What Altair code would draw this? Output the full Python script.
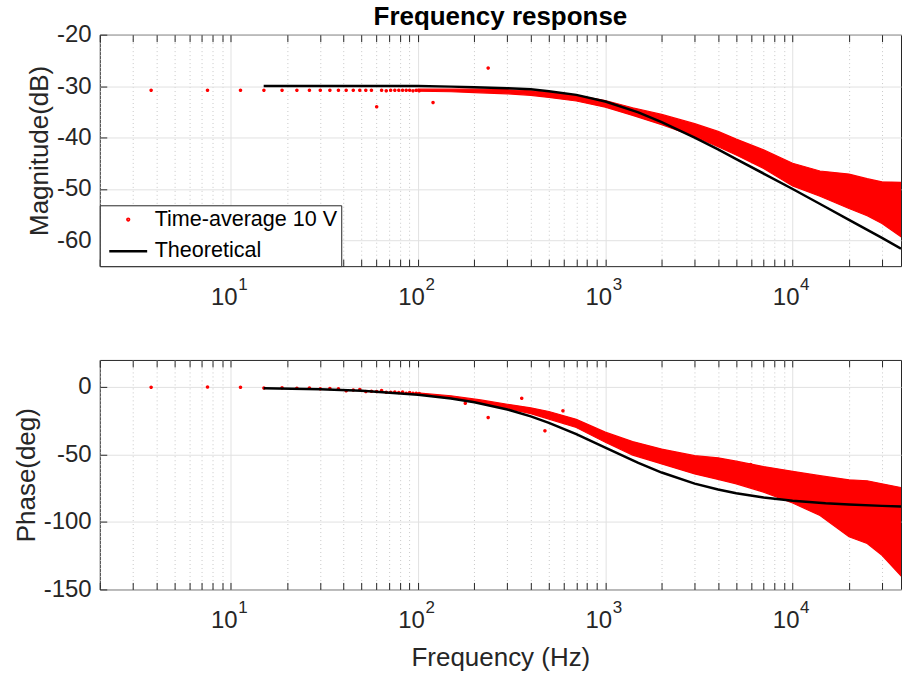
import altair as alt
import pandas as pd

FONT = "Liberation Sans"
RED = "#ff0000"
INK = "#262626"
DATA_NAME = "Time-average 10 V"
THEORY_NAME = "Theoretical"

# ---- x axis (log) ----
x_domain = [2, 37900]
x_ticks = [2, 3, 4, 5, 6, 7, 8, 9, 10, 20, 30, 40, 50, 60, 70, 80, 90, 100,
           200, 300, 400, 500, 600, 700, 800, 900, 1000, 2000, 3000, 4000, 5000,
           6000, 7000, 8000, 9000, 10000, 20000, 30000]
decades = [10, 100, 1000, 10000]
decade_exp = ["1", "2", "3", "4"]

# ---- sparse low-frequency bins (Hz) ----
bin_freq = [3.76, 7.52, 11.28, 15.04, 18.80, 22.56, 26.32, 30.08, 33.84, 37.60,
            41.36, 45.12, 48.88, 52.64, 56.40, 60.16, 63.92, 67.68, 71.44, 75.20,
            78.96, 82.72, 86.48, 90.24, 94.00, 97.76, 101.52]
bin_mag = [-30.8, -30.8, -30.8, -30.8, -30.8, -30.8, -30.8, -30.8, -30.8, -30.8,
           -30.8, -30.8, -30.8, -30.8, -30.8, -34.0, -30.8, -30.9, -30.8, -30.8,
           -30.8, -30.8, -30.8, -30.8, -30.9, -30.8, -30.9]
bin_phase = [-0.2, -0.1, -0.3, -0.8, -0.6, -1.0, -0.8, -1.4, -1.2, -1.4,
             -2.9, -2.2, -1.9, -3.4, -3.2, -3.3, -2.7, -4.0, -4.0, -3.7,
             -4.1, -3.8, -4.6, -4.2, -4.6, -4.7, -4.9]

# isolated outliers
mag_out_freq = [120.3, 236.9]
mag_out = [-33.2, -26.5]
phase_out_freq = [178.8, 236.9, 357.9, 476.0, 594.0, 5970.0]
phase_out = [-12.0, -22.6, -8.3, -32.5, -17.7, -57.5]

# dense measured band: upper / lower envelope
band_freq = [100, 150, 216, 300, 400, 500, 700, 1000, 1400, 2000, 3000, 4000,
             5000, 7000, 10000, 14000, 20000, 25000, 30000, 37900]
mag_upper = [-30.6, -30.6, -30.6, -30.7, -30.9, -31.2, -31.8, -32.8, -34.2, -35.5,
             -37.3, -38.8, -40.3, -42.4, -45.0, -46.5, -47.1, -48.0, -48.6, -48.7]
mag_lower = [-31.0, -31.1, -31.3, -31.5, -31.8, -32.2, -32.9, -34.1, -35.7, -37.5,
             -39.8, -41.8, -43.4, -46.0, -49.4, -51.4, -53.8, -55.2, -56.7, -59.3]
phase_upper = [-4.5, -6.5, -9.6, -12.8, -15.5, -18.2, -24.0, -33.5, -40.5, -46.0,
               -50.9, -52.5, -55.0, -59.0, -62.5, -65.7, -68.8, -69.5, -71.8, -74.5]
phase_lower = [-5.5, -8.5, -12.0, -16.0, -19.8, -23.8, -30.0, -41.0, -50.5, -57.0,
               -64.4, -68.5, -71.8, -77.9, -86.0, -95.2, -111.0, -116.0, -124.7, -140.0]

# theoretical curve
theory_freq = [15, 30, 50, 100, 150, 200, 300, 400, 500, 700, 1000, 1500, 2000,
               3000, 4000, 5000, 7000, 10000, 15000, 20000, 30000, 37900]
theory_mag = [-30.0, -30.0, -30.0, -30.0, -30.1, -30.2, -30.4, -30.6, -31.0, -31.7,
              -33.0, -35.1, -37.0, -40.0, -42.3, -44.2, -47.0, -50.0, -53.5, -56.0,
              -59.5, -61.6]
theory_phase = [-0.9, -1.7, -2.9, -5.7, -8.5, -11.3, -16.7, -21.8, -26.6, -35.0,
                -45.0, -56.3, -63.4, -71.6, -76.0, -78.7, -81.9, -84.3, -86.2, -87.1,
                -88.1, -88.5]

W = 803
MAJOR_TEST = "indexof([10,100,1000,10000], datum.value) >= 0"
LINE_SYMBOL = "M-1,0L1,0"


def panel(y_title, y_domain, y_ticks, dot_f, dot_v, out_f, out_v, up, lo, th,
          height, legend, x_title=None, title=None):
    dots = pd.DataFrame({"f": dot_f + out_f, "v": dot_v + out_v,
                         "series": [DATA_NAME] * (len(dot_f) + len(out_f))})
    band = pd.DataFrame({"f": band_freq, "hi": up, "lo": lo})
    theo = pd.DataFrame({"f": theory_freq, "v": th, "series": [THEORY_NAME] * len(th)})
    exps = pd.DataFrame({"f": decades, "e": decade_exp})

    xs = alt.Scale(type="log", domain=x_domain, nice=False)
    ys = alt.Scale(domain=y_domain, nice=False, zero=False)

    x_axis = alt.Axis(
        values=x_ticks,
        labelExpr=MAJOR_TEST + " ? '10' : ''",
        grid=True,
        gridDash={"condition": {"test": MAJOR_TEST, "value": []}, "value": [1, 3]},
        gridColor={"condition": {"test": MAJOR_TEST, "value": "#e1e1e1"}, "value": "#c8c8c8"},
        gridWidth=1,
        domain=False, ticks=True, tickSize=7, tickColor=INK, tickWidth=1, offset=-7,
        labelPadding=19, labelOffset=-7, labelFontSize=24, labelFont=FONT,
        labelColor=INK, labelFlush=False, labelOverlap=False, labelBound=False,
        title=x_title if x_title else None, titleFontSize=26, titleFont=FONT,
        titleColor=INK, titleFontWeight="normal", titlePadding=12)
    y_axis = alt.Axis(
        values=y_ticks,
        labelExpr="datum.value < 0 ? '-' + abs(datum.value) : '' + datum.value",
        grid=True, gridColor="#e1e1e1", gridWidth=1,
        domain=False, ticks=True, tickSize=7, tickColor=INK, tickWidth=1, offset=-7,
        labelPadding=8.7, labelFontSize=24, labelFont=FONT, labelColor=INK,
        labelFlush=False, labelOverlap=False,
        title=y_title, titleFontSize=26, titleFont=FONT, titleColor=INK,
        titleFontWeight="normal", titlePadding=4)

    if legend:
        leg = alt.Legend(title=None, orient="bottom-left", offset=0, padding=3.5,
                         symbolOffset=4.5,
                         fillColor="white", strokeColor=INK, labelFontSize=21.6,
                         labelFont=FONT, labelColor="black", symbolStrokeWidth=2.5,
                         labelOffset=6, rowPadding=0, symbolOpacity=1, labelLimit=400)
    else:
        leg = None
    dom = [DATA_NAME, THEORY_NAME]
    color = alt.Color("series:N", scale=alt.Scale(domain=dom, range=[RED, "black"]), legend=leg)
    shape = alt.Shape("series:N", scale=alt.Scale(domain=dom, range=["circle", LINE_SYMBOL]), legend=leg)
    size = alt.Size("series:N", scale=alt.Scale(domain=dom, range=[3, 1444]), legend=leg)

    band_layer = alt.Chart(band).mark_area(fill=RED, stroke=RED, strokeWidth=1.2, clip=True).encode(
        x=alt.X("f:Q", scale=xs, axis=x_axis),
        y=alt.Y("lo:Q", scale=ys, axis=y_axis),
        y2="hi:Q")
    dot_layer = alt.Chart(dots).mark_point(filled=False, strokeWidth=1.8, opacity=1, clip=True).encode(
        x=alt.X("f:Q", scale=xs, axis=None),
        y=alt.Y("v:Q", scale=ys),
        color=color, shape=shape, size=size)
    line_layer = alt.Chart(theo).mark_line(strokeWidth=2.5, clip=True).encode(
        x=alt.X("f:Q", scale=xs, axis=None),
        y=alt.Y("v:Q", scale=ys),
        color=alt.Color("series:N", scale=alt.Scale(domain=dom, range=[RED, "black"]), legend=leg))
    exp_layer = alt.Chart(exps).mark_text(align="left", baseline="top", dx=7.5,
                                          fontSize=17, font=FONT, color=INK).encode(
        x=alt.X("f:Q", scale=xs, axis=alt.Axis(orient="top", values=x_ticks, labels=False,
                                               grid=False, domain=False, ticks=True,
                                               tickSize=7, tickColor=INK, offset=-7,
                                               title=None)),
        y=alt.value(height + 11),
        text="e:N")

    ch = alt.layer(band_layer, dot_layer, line_layer, exp_layer).resolve_axis(x="independent")
    props = dict(width=W, height=height)
    if title:
        props["title"] = alt.TitleParams(title, fontSize=26, fontWeight="bold", font=FONT,
                                         color="black", anchor="middle", frame="group",
                                         baseline="alphabetic", offset=-28)
    return ch.properties(**props)


top = panel("Magnitude(dB)", [-65, -20], [-20, -30, -40, -50, -60],
            bin_freq, bin_mag, mag_out_freq, mag_out, mag_upper, mag_lower, theory_mag,
            232, True, title="Frequency response")
bottom = panel("Phase(deg)", [-150, 20], [0, -50, -100, -150],
               bin_freq, bin_phase, phase_out_freq, phase_out, phase_upper, phase_lower,
               theory_phase, 230, False, x_title="Frequency (Hz)")

chart = alt.vconcat(top, bottom, spacing=94, bounds="flush").resolve_scale(
    color="independent", shape="independent", size="independent"
).properties(
    padding={"left": 12, "top": 2, "right": 0, "bottom": 0},
    background="white",
).configure_view(stroke=INK, strokeWidth=1)

chart.save("out.html", embed_options={"renderer": "svg", "actions": False})
